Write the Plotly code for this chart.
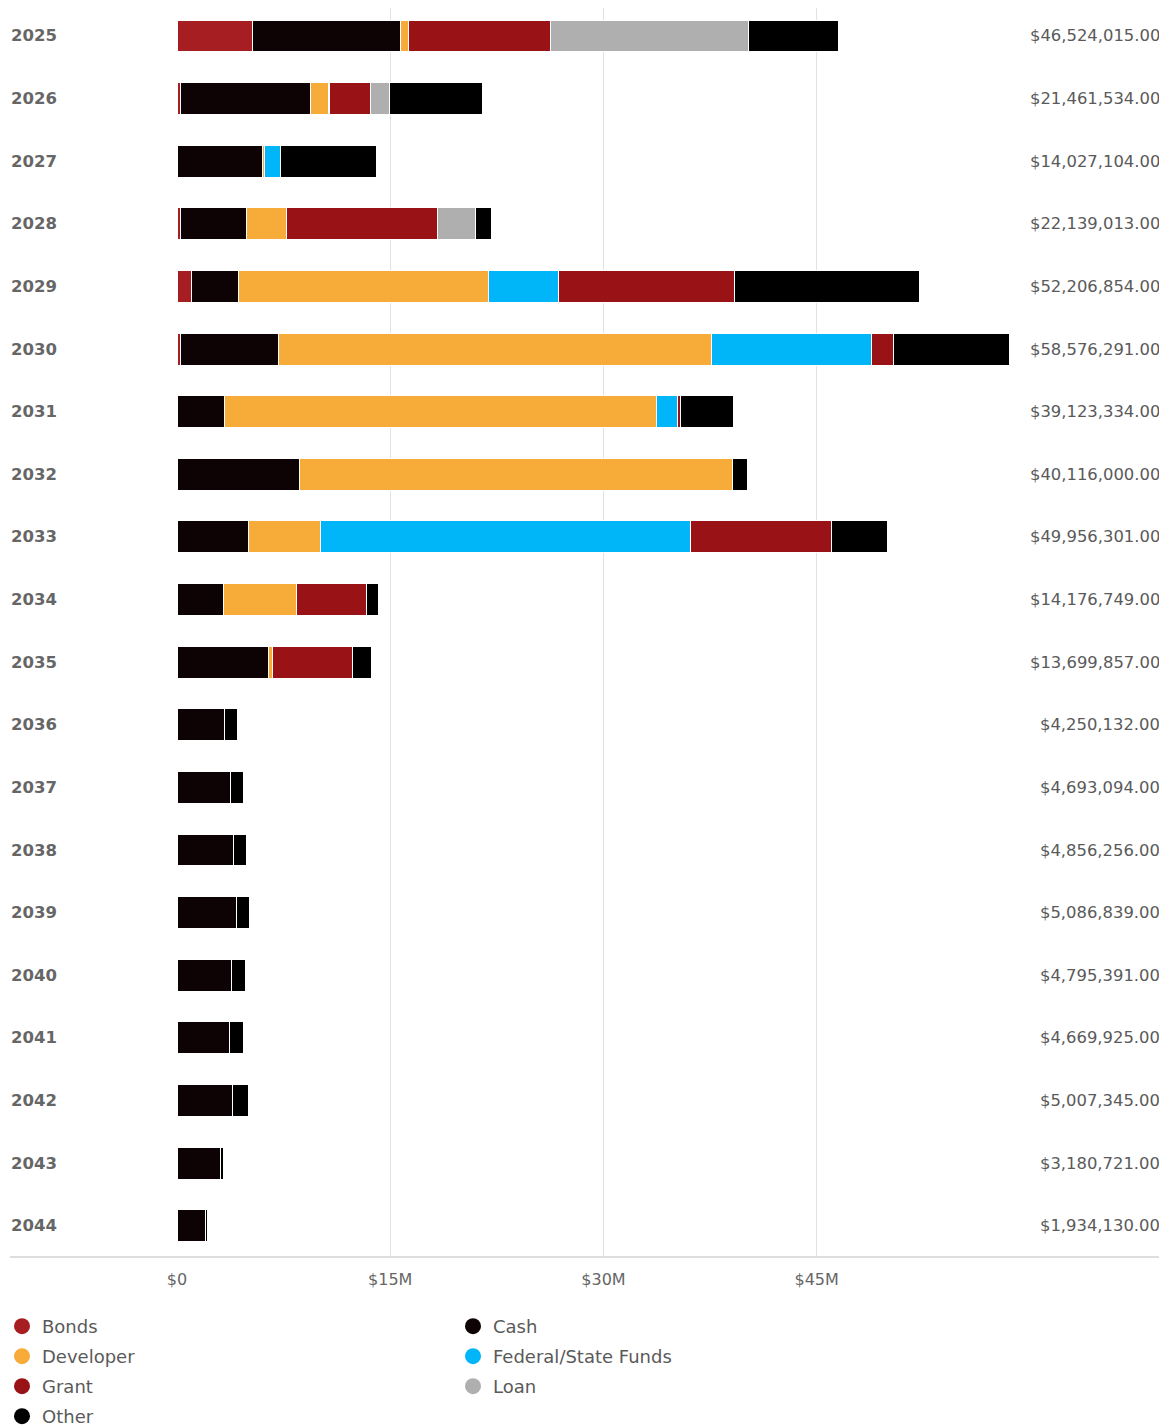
import plotly.graph_objects as go

years = [str(y) for y in range(2025, 2045)]

# values in $ millions
bonds     = [5.33, 0.27, 0, 0.27, 1.02, 0.27, 0, 0, 0, 0, 0, 0, 0, 0, 0, 0, 0, 0, 0, 0]
cash      = [10.36, 9.10, 5.98, 4.65, 3.28, 6.85, 3.31, 8.60, 5.00, 3.30, 6.41, 3.35, 3.74, 3.98, 4.20, 3.86, 3.72, 3.93, 3.06, 1.98]
developer = [0.62, 1.29, 0.16, 2.75, 17.63, 30.47, 30.44, 30.46, 5.08, 5.08, 0.28, 0, 0, 0, 0, 0, 0, 0, 0, 0]
fedstate  = [0, 0.10, 1.13, 0, 4.92, 11.28, 1.44, 0, 26.03, 0, 0, 0, 0, 0, 0, 0, 0, 0, 0, 0]
grant     = [9.94, 2.85, 0, 10.65, 12.40, 1.50, 0.22, 0, 9.92, 4.96, 5.69, 0, 0, 0, 0, 0, 0, 0, 0, 0]
loan      = [13.92, 1.37, 0, 2.66, 0, 0, 0, 0, 0, 0, 0, 0, 0, 0, 0, 0, 0, 0, 0, 0]
other     = [6.35, 6.48, 6.76, 1.16, 12.96, 8.21, 3.71, 1.06, 3.93, 0.84, 1.32, 0.90, 0.95, 0.88, 0.89, 0.94, 0.95, 1.08, 0.18, 0.14]

totals = [46524015.00, 21461534.00, 14027104.00, 22139013.00, 52206854.00, 58576291.00,
          39123334.00, 40116000.00, 49956301.00, 14176749.00, 13699857.00, 4250132.00,
          4693094.00, 4856256.00, 5086839.00, 4795391.00, 4669925.00, 5007345.00,
          3180721.00, 1934130.00]

tick_vals = [0, 15, 30, 45]
tick_text = ["$0", "$15M", "$30M", "$45M"]

series = [
    ("Bonds", bonds, "#A61E22", "legend"),
    ("Cash", cash, "#0D0204", "legend2"),
    ("Developer", developer, "#F7AB38", "legend"),
    ("Federal/State Funds", fedstate, "#00B6F8", "legend2"),
    ("Grant", grant, "#991215", "legend"),
    ("Loan", loan, "#B0AFAF", "legend2"),
    ("Other", other, "#000000", "legend"),
]

FONT = "DejaVu Sans"
# the page body adds an 8px offset; size the figure so it fills the window
O = 8
W, H = 1167 - O, 1427 - O
L, R, T, B = 169, 157, 0, 170
PW = W - L - R
PH = H - T - B

fig = go.Figure()
for name, vals, color, lg in series:
    fig.add_trace(go.Bar(
        y=years, x=vals, name=name, orientation="h",
        marker=dict(color=color, line=dict(color="white", width=1)),
        showlegend=False))
for name, vals, color, lg in series:
    # legend-only circle markers (placed left of the visible x range)
    fig.add_trace(go.Scatter(
        x=[-10], y=[years[0]], mode="markers", name=name, legend=lg,
        legendgroup=name, hoverinfo="skip", cliponaxis=True,
        marker=dict(color=color, size=16, symbol="circle")))

annotations = []
for i, (yr, tot) in enumerate(zip(years, totals)):
    annotations.append(dict(
        x=(51 - L) / PW, xref="paper", y=i, yref="y", text="<b>" + yr + "</b>",
        xanchor="right", yanchor="middle", showarrow=False,
        font=dict(family=FONT, size=16.5, color="#666666")))
    annotations.append(dict(
        x=(1154 - L) / PW, xref="paper", y=i, yref="y", text="${:,.2f}".format(tot),
        xanchor="right", yanchor="middle", showarrow=False,
        font=dict(family=FONT, size=16.4, color="#5a5a5a")))

legend_y = (PH + T - 1300) / PH

fig.update_layout(
    width=W, height=H,
    margin=dict(l=L, r=R, t=T, b=B, autoexpand=False),
    barmode="stack", bargap=0.49,
    plot_bgcolor="white", paper_bgcolor="white",
    font=dict(family=FONT, size=17, color="#5a5a5a"),
    xaxis=dict(range=[0, 58.6], tickvals=tick_vals, ticktext=tick_text,
               showgrid=True, gridcolor="#e2e2e2", gridwidth=1, zeroline=False,
               showline=False, ticks="outside", ticklen=8, tickcolor="rgba(0,0,0,0)",
               tickfont=dict(family=FONT, size=16, color="#666666")),
    yaxis=dict(type="category", categoryorder="array", categoryarray=years,
               range=[19.5, -0.447], showticklabels=False,
               showgrid=False, zeroline=False),
    legend=dict(x=(-6 - L) / PW, y=legend_y, xanchor="left", yanchor="top",
                orientation="v", tracegroupgap=3.6, font=dict(size=18, color="#5a5a5a")),
    legend2=dict(x=(445 - L) / PW, y=legend_y, xanchor="left", yanchor="top",
                 orientation="v", tracegroupgap=3.6, font=dict(size=18, color="#5a5a5a")),
    annotations=annotations,
    shapes=[dict(type="line", xref="paper", yref="paper", x0=(2 - L) / PW, x1=(1152 - L) / PW,
                 y0=0, y1=0, line=dict(color="#dddddd", width=2))],
)

fig.write_html("out.html")
